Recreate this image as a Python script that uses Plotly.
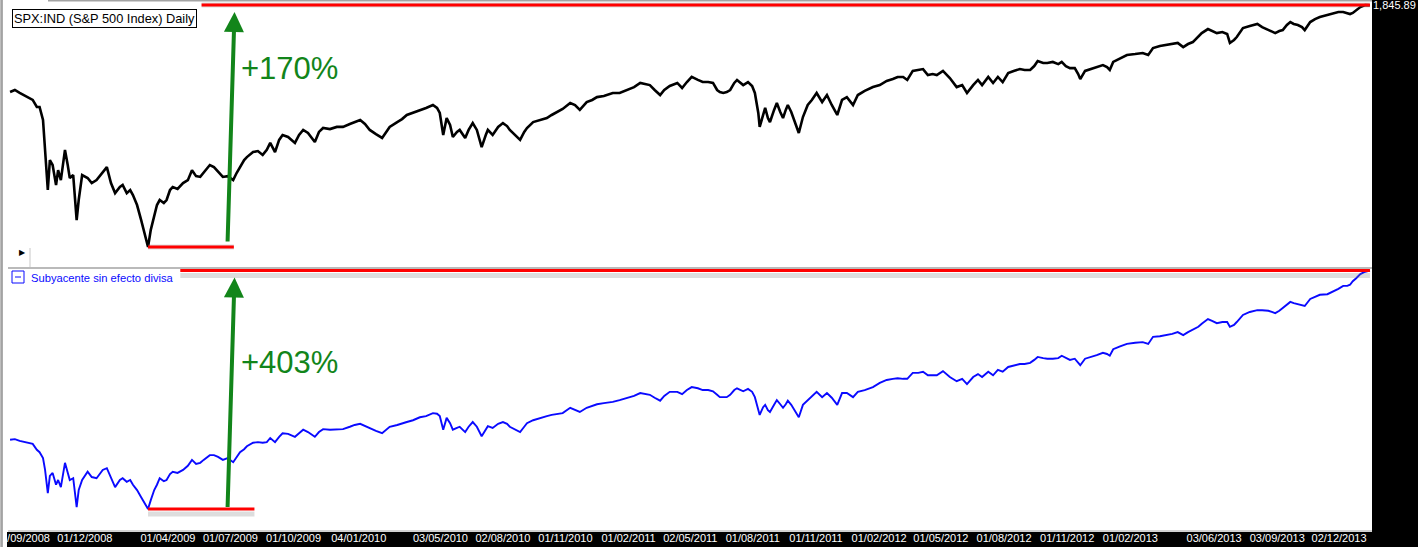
import numpy as np
import plotly.graph_objects as go

# weekly-ish readings, S&P 500 close (top) and "Subyacente sin efecto divisa" (bottom, base 100 at the low)
dates = [
    "2008-08-14", "2008-08-21", "2008-08-28", "2008-09-07", "2008-09-16", "2008-09-22", "2008-09-26", "2008-10-01",
    "2008-10-04", "2008-10-08", "2008-10-11", "2008-10-15", "2008-10-20", "2008-10-23", "2008-10-27", "2008-11-02",
    "2008-11-06", "2008-11-09", "2008-11-14", "2008-11-19", "2008-11-22", "2008-11-27", "2008-12-05", "2008-12-11",
    "2008-12-18", "2008-12-27",
    "2009-01-02", "2009-01-08", "2009-01-14", "2009-01-21", "2009-01-25", "2009-01-31", "2009-02-05", "2009-02-09",
    "2009-02-15", "2009-02-21", "2009-02-26", "2009-03-03", "2009-03-07", "2009-03-12", "2009-03-16", "2009-03-20",
    "2009-03-26", "2009-03-30", "2009-04-04", "2009-04-08", "2009-04-15", "2009-04-23", "2009-04-30", "2009-05-06",
    "2009-05-12", "2009-05-18", "2009-05-23", "2009-06-01", "2009-06-07", "2009-06-13", "2009-06-20", "2009-06-27",
    "2009-07-05", "2009-07-10", "2009-07-15", "2009-07-21", "2009-07-25", "2009-08-03", "2009-08-10", "2009-08-17",
    "2009-08-23", "2009-08-28", "2009-09-04", "2009-09-10", "2009-09-15", "2009-09-23", "2009-10-03", "2009-10-09",
    "2009-10-15", "2009-10-22", "2009-11-01", "2009-11-07", "2009-11-13", "2009-11-23", "2009-12-03", "2009-12-12",
    "2009-12-22", "2009-12-29",
    "2010-01-06", "2010-01-13", "2010-01-20", "2010-01-29", "2010-02-07", "2010-02-13", "2010-02-18", "2010-03-01",
    "2010-03-08", "2010-03-15", "2010-03-24", "2010-04-03", "2010-04-12", "2010-04-22", "2010-04-28", "2010-05-02",
    "2010-05-07", "2010-05-12", "2010-05-17", "2010-05-21", "2010-05-27", "2010-05-31", "2010-06-08", "2010-06-13",
    "2010-06-19", "2010-06-25", "2010-07-02", "2010-07-08", "2010-07-11", "2010-07-18", "2010-07-26", "2010-08-02",
    "2010-08-08", "2010-08-12", "2010-08-19", "2010-08-27", "2010-09-02", "2010-09-06", "2010-09-15", "2010-09-25",
    "2010-10-05", "2010-10-12", "2010-10-20", "2010-10-28", "2010-11-08", "2010-11-15", "2010-11-22", "2010-12-02",
    "2010-12-10", "2010-12-17", "2010-12-27",
    "2011-01-09", "2011-01-19", "2011-01-30", "2011-02-09", "2011-02-18", "2011-02-25", "2011-03-04", "2011-03-11",
    "2011-03-19", "2011-03-25", "2011-04-02", "2011-04-13", "2011-04-20", "2011-04-27", "2011-05-04", "2011-05-13",
    "2011-05-20", "2011-05-28", "2011-06-04", "2011-06-10", "2011-06-14", "2011-06-19", "2011-06-24", "2011-06-29",
    "2011-07-05", "2011-07-09", "2011-07-18", "2011-07-25", "2011-07-31", "2011-08-04", "2011-08-09", "2011-08-11",
    "2011-08-16", "2011-08-19", "2011-08-23", "2011-08-26", "2011-09-01", "2011-09-05", "2011-09-10", "2011-09-14",
    "2011-09-18", "2011-09-21", "2011-09-26", "2011-10-01", "2011-10-07", "2011-10-13", "2011-10-20", "2011-10-26",
    "2011-11-02", "2011-11-10", "2011-11-17", "2011-11-24", "2011-12-02", "2011-12-09", "2011-12-16", "2011-12-25",
    "2012-01-01", "2012-01-11", "2012-01-23", "2012-02-02", "2012-02-12", "2012-02-21", "2012-02-28", "2012-03-07",
    "2012-03-13", "2012-03-21", "2012-03-29", "2012-04-05", "2012-04-12", "2012-04-19", "2012-04-25", "2012-05-04",
    "2012-05-14", "2012-05-24", "2012-06-01", "2012-06-08", "2012-06-17", "2012-06-24", "2012-06-30", "2012-07-09",
    "2012-07-16", "2012-07-23", "2012-07-30", "2012-08-07", "2012-08-15", "2012-08-24", "2012-08-31", "2012-09-08",
    "2012-09-14", "2012-09-19", "2012-09-27", "2012-10-03", "2012-10-11", "2012-10-19", "2012-10-24", "2012-10-30",
    "2012-11-05", "2012-11-12", "2012-11-17", "2012-11-20", "2012-11-27", "2012-12-06", "2012-12-14", "2012-12-23",
    "2012-12-29",
    "2013-01-02", "2013-01-07", "2013-01-17", "2013-01-27", "2013-02-08", "2013-02-19", "2013-02-27", "2013-03-06",
    "2013-03-16", "2013-03-26", "2013-04-03", "2013-04-11", "2013-04-19", "2013-04-26", "2013-05-03", "2013-05-11",
    "2013-05-16", "2013-05-25", "2013-05-31", "2013-06-07", "2013-06-15", "2013-06-22", "2013-06-26", "2013-07-02",
    "2013-07-06", "2013-07-15", "2013-07-25", "2013-08-05", "2013-08-12", "2013-08-21", "2013-08-26", "2013-08-31",
    "2013-09-06", "2013-09-11", "2013-09-17", "2013-09-22", "2013-09-27", "2013-10-03", "2013-10-09", "2013-10-13",
    "2013-10-21", "2013-10-28", "2013-11-04", "2013-11-15", "2013-11-23", "2013-12-01", "2013-12-08", "2013-12-14",
    "2013-12-18", "2013-12-22", "2013-12-27",
    "2014-01-02", "2014-01-09", "2014-01-16",
]

spx = [
    1281, 1292, 1276, 1254, 1239, 1203, 1203, 1139,
    1004, 848, 962, 942, 866, 922, 884, 1004,
    942, 892, 903, 747, 813, 903, 892, 873,
    884, 915,
    934, 873, 837, 859, 866, 837, 848, 830,
    796, 747, 702, 667, 717, 763, 796, 813,
    803, 813, 848, 859, 852, 873, 884, 922,
    899, 896, 911, 942, 934, 915, 896, 899,
    884, 911, 934, 962, 974, 995, 999, 983,
    1004, 1034, 995, 1047, 1069, 1060, 1034, 1069,
    1092, 1078, 1038, 1083, 1101, 1096, 1106, 1106,
    1120, 1129,
    1139, 1120, 1092, 1073, 1056, 1083, 1106, 1129,
    1143, 1163, 1173, 1188, 1198, 1213, 1198, 1173,
    1069, 1148, 1115, 1060, 1083, 1092, 1056, 1092,
    1124, 1092, 1016, 1069, 1092, 1069, 1106, 1124,
    1110, 1092, 1069, 1047, 1083, 1101, 1129, 1139,
    1148, 1163, 1178, 1193, 1223, 1213, 1188, 1228,
    1239, 1254, 1260,
    1276, 1276, 1292, 1308, 1331, 1325, 1319, 1292,
    1265, 1292, 1314, 1331, 1303, 1336, 1365, 1348,
    1336, 1336, 1331, 1292, 1281, 1276, 1281, 1292,
    1331, 1348, 1319, 1336, 1314, 1276, 1173, 1106,
    1163, 1198, 1148, 1129, 1188, 1223, 1178, 1148,
    1188, 1213, 1178, 1129, 1078, 1153, 1213, 1239,
    1276, 1228, 1265, 1213, 1163, 1239, 1254, 1213,
    1265, 1287, 1308, 1319, 1342, 1353, 1365, 1365,
    1348, 1400, 1406, 1411, 1376, 1382, 1376, 1400,
    1359, 1308, 1319, 1276, 1319, 1348, 1319, 1365,
    1331, 1365, 1336, 1388, 1400, 1411, 1406, 1406,
    1429, 1460, 1448, 1448, 1454, 1441, 1454, 1429,
    1417, 1417, 1382, 1353, 1400, 1411, 1423, 1435,
    1423,
    1406, 1454, 1478, 1497, 1503, 1510, 1497, 1542,
    1555, 1562, 1568, 1575, 1548, 1568, 1581, 1615,
    1642, 1670, 1656, 1642, 1649, 1636, 1575, 1595,
    1615, 1677, 1692, 1706, 1684, 1663, 1656, 1642,
    1656, 1663, 1699, 1720, 1706, 1699, 1684, 1663,
    1720, 1742, 1757, 1772, 1787, 1794, 1794, 1787,
    1779, 1787, 1810,
    1832, 1848, 1845.89,
]

sub = [
    217, 218, 215, 212, 210, 200, 196, 186,
    166, 127, 156, 161, 141, 149, 137, 178,
    163, 149, 152, 103, 132, 149, 163, 154,
    152, 166,
    169, 152, 137, 149, 152, 146, 149, 141,
    132, 120, 110, 100, 115, 132, 141, 152,
    147, 149, 159, 163, 161, 166, 173, 183,
    176, 178, 183, 191, 191, 188, 183, 186,
    179, 188, 196, 201, 206, 212, 213, 212,
    213, 220, 213, 222, 228, 227, 222, 228,
    234, 230, 222, 230, 235, 234, 235, 235,
    239, 242,
    244, 240, 237, 232, 228, 234, 239, 242,
    244, 247, 250, 255, 257, 262, 261, 257,
    234, 254, 245, 234, 237, 239, 230, 239,
    247, 239, 223, 235, 240, 237, 244, 247,
    244, 239, 235, 230, 239, 245, 250, 254,
    257, 259, 261, 262, 271, 267, 264, 271,
    274, 277, 279,
    281, 284, 288, 291, 296, 294, 293, 288,
    283, 291, 298, 298, 294, 301, 306, 304,
    301, 301, 299, 293, 289, 289, 289, 293,
    301, 304, 299, 303, 298, 289, 267, 259,
    272, 276, 267, 264, 276, 284, 277, 271,
    277, 283, 276, 267, 255, 276, 284, 291,
    298, 289, 296, 288, 276, 296, 296, 289,
    298, 301, 306, 313, 318, 320, 321, 320,
    320, 330, 330, 332, 326, 326, 326, 333,
    323, 316, 320, 311, 323, 328, 323, 332,
    326, 335, 332, 340, 342, 345, 345, 347,
    352, 357, 355, 354, 354, 355, 359, 355,
    352, 354, 348, 343, 354, 357, 360, 364,
    362,
    359, 370, 375, 379, 381, 382, 379, 391,
    392, 394, 396, 399, 394, 399, 403, 408,
    413, 421, 418, 414, 416, 416, 408, 411,
    416, 428, 433, 436, 436, 435, 433, 431,
    435, 440, 445, 450, 448, 446, 445, 443,
    455, 458, 462, 463, 467, 472, 477, 477,
    479, 485, 490,
    497, 501, 503,
]

tick_dates = [
    "2008-09-01", "2008-12-01", "2009-04-01", "2009-07-01", "2009-10-01", "2010-01-04", "2010-05-03",
    "2010-08-02", "2010-11-01", "2011-02-01", "2011-05-02", "2011-08-01", "2011-11-01", "2012-02-01",
    "2012-05-01", "2012-08-01", "2012-11-01", "2013-02-01", "2013-06-03", "2013-09-03", "2013-12-02",
]
tick_labels = [
    "01/09/2008", "01/12/2008", "01/04/2009", "01/07/2009", "01/10/2009", "04/01/2010", "03/05/2010",
    "02/08/2010", "01/11/2010", "01/02/2011", "02/05/2011", "01/08/2011", "01/11/2011", "01/02/2012",
    "01/05/2012", "01/08/2012", "01/11/2012", "01/02/2013", "03/06/2013", "03/09/2013", "02/12/2013",
]

# page geometry, used to place the screen decorations
W, H = 1418, 547
L, R, T, B = 8, 46, 2, 17
pw, ph = W - L - R, H - T - B


def px(x):
    return (x - L) / pw


def py(y):
    return (H - B - y) / ph


GREEN = "#12851a"
GRAY = "#a3a3a3"
SHADOW = "rgba(120,120,120,0.25)"
FONT = "Liberation Sans, Arial, sans-serif"

hi_top, lo_top = max(spx), min(spx)
hi_sub, lo_sub = max(sub), min(sub)
low_date = dates[spx.index(lo_top)]

fig = go.Figure()
fig.add_trace(go.Scatter(x=dates, y=spx, xaxis="x", yaxis="y", mode="lines",
                         line=dict(color="black", width=2.6), name="SPX:IND"))
fig.add_trace(go.Scatter(x=dates, y=sub, xaxis="x", yaxis="y2", mode="lines",
                         line=dict(color="#0a0aff", width=1.9), name="Subyacente sin efecto divisa"))

shapes = [
    # black frame right and bottom
    dict(type="rect", xref="paper", yref="paper", x0=1, x1=px(W + 2), y0=py(H + 2), y1=py(-2),
         fillcolor="black", line=dict(width=0), layer="below"),
    dict(type="rect", xref="paper", yref="paper", x0=px(7), x1=px(W + 2), y0=py(H + 2), y1=py(532),
         fillcolor="black", line=dict(width=0), layer="below"),
    # grey frame lines
    dict(type="line", xref="paper", yref="paper", x0=px(48), x1=1, y0=py(0.8), y1=py(0.8),
         line=dict(color=GRAY, width=1.6)),
    dict(type="line", xref="paper", yref="paper", x0=px(8), x1=1, y0=py(268), y1=py(268),
         line=dict(color=GRAY, width=1.6)),
    dict(type="line", xref="paper", yref="paper", x0=px(8), x1=1, y0=py(531), y1=py(531),
         line=dict(color=GRAY, width=1.2)),
    dict(type="line", xref="paper", yref="paper", x0=px(30), x1=px(30), y0=py(248), y1=py(267),
         line=dict(color="#c8c8c8", width=1)),
    dict(type="rect", xref="paper", yref="paper", x0=px(-2), x1=px(7), y0=py(H + 2), y1=py(-2),
         fillcolor="white", line=dict(width=0), layer="above"),
    dict(type="line", xref="paper", yref="paper", x0=px(1.6), x1=px(1.6), y0=py(H + 2), y1=py(-2),
         line=dict(color=GRAY, width=2.6), layer="above"),
    # legend icon of the lower panel
    dict(type="rect", xref="paper", yref="paper", x0=px(12), x1=px(24), y0=py(283), y1=py(271),
         line=dict(color="#0a0aff", width=1), fillcolor="white"),
    dict(type="line", xref="paper", yref="paper", x0=px(15), x1=px(21), y0=py(277), y1=py(277),
         line=dict(color="#0a0aff", width=1)),
]

# red level lines with their drop shadow
levels = [
    ("y", "2009-05-20", dates[-1], hi_top),
    ("y", low_date, "2009-07-06", lo_top),
    ("y2", "2009-04-19", dates[-1], hi_sub),
    ("y2", low_date, "2009-08-05", lo_sub),
]
for yref, x0, x1, level in levels:
    shapes.append(dict(type="line", xref="x", yref=yref, x0=x0, x1=x1, ysizemode="pixel",
                       yanchor=level, y0=-5, y1=-5, line=dict(color=SHADOW, width=5)))
    shapes.append(dict(type="line", xref="x", yref=yref, x0=x0, x1=x1, y0=level, y1=level,
                       line=dict(color="#ff0000", width=3)))

annotations = [
    dict(xref="paper", yref="paper", x=px(12), y=py(9), xanchor="left", yanchor="top",
         text="SPX:IND (S&P 500 Index) Daily", showarrow=False,
         font=dict(family=FONT, size=12.8, color="black"),
         bgcolor="white", bordercolor="black", borderwidth=1, borderpad=1),
    dict(xref="paper", yref="paper", x=px(29), y=py(277.5), xanchor="left", yanchor="middle",
         text="Subyacente sin efecto divisa", showarrow=False,
         font=dict(family=FONT, size=11.2, color="#0a0aff")),
    dict(xref="paper", yref="paper", x=px(22), y=py(253), xanchor="center", yanchor="middle",
         text="\u25b6", showarrow=False, font=dict(family="DejaVu Sans", size=8, color="black")),
    # green arrows from the low to the high
    dict(xref="x", yref="y", x="2009-07-07", y=np.log10(hi_top), yshift=-7, text="",
         showarrow=True, axref="pixel", ayref="pixel", ax=-7, ay=231,
         arrowcolor=GREEN, arrowwidth=4, arrowhead=2, arrowsize=1, standoff=0),
    dict(xref="x", yref="y2", x="2009-07-07", y=hi_sub, yshift=-7, text="",
         showarrow=True, axref="pixel", ayref="pixel", ax=-7, ay=231,
         arrowcolor=GREEN, arrowwidth=4, arrowhead=2, arrowsize=1, standoff=0),
    dict(xref="paper", yref="paper", x=px(239), y=py(68.5), xanchor="left", yanchor="middle",
         text="+170%", showarrow=False, font=dict(family=FONT, size=31, color=GREEN)),
    dict(xref="paper", yref="paper", x=px(239), y=py(362), xanchor="left", yanchor="middle",
         text="+403%", showarrow=False, font=dict(family=FONT, size=31, color=GREEN)),
]

layout = dict(
    width=W,
    height=H,
    margin=dict(l=L, r=R, t=T, b=B, pad=0, autoexpand=False),
    paper_bgcolor="white",
    plot_bgcolor="white",
    showlegend=False,
    xaxis=dict(type="date", range=["2008-08-11", "2014-01-19"], anchor="y2", domain=[0, 1],
               tickvals=tick_dates, ticktext=tick_labels, tickangle=0, ticklabeloverflow="allow",
               tickfont=dict(family=FONT, size=11, color="white"), automargin=False,
               ticks="", showgrid=False, zeroline=False, showline=False),
    yaxis=dict(type="log", domain=[py(267), 1], range=[2.7876, 3.2722], anchor="x", side="right",
               tickvals=[spx[-1]], ticktext=["{:,.2f}".format(spx[-1])], ticklabeloverflow="allow",
               tickfont=dict(family=FONT, size=11, color="white"), automargin=False,
               ticks="", showgrid=False, zeroline=False, showline=False),
    yaxis2=dict(domain=[0, py(269)], range=[64.5, 505.6], anchor="x", automargin=False,
                showticklabels=False, ticks="", showgrid=False, zeroline=False, showline=False),
    shapes=shapes,
    annotations=annotations,
)

fig.update_layout(layout)
# the page body has a default 8px margin; drop it so the figure fills the window
fig.write_html("out.html", config={"displayModeBar": False},
               post_script="document.body.style.margin = '0px'; window.scrollTo(0, 0);")
